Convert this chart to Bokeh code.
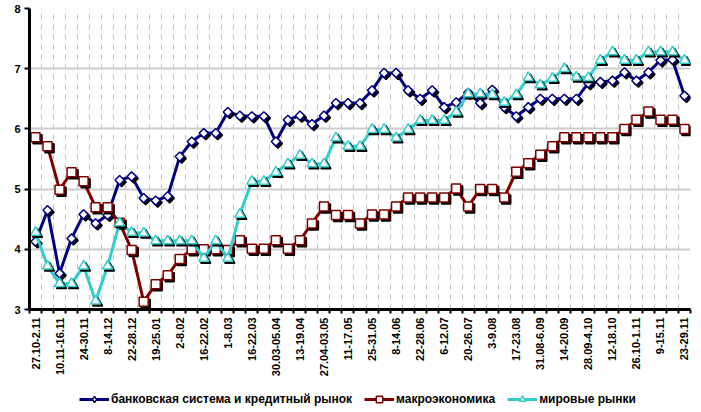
from bokeh.plotting import figure
from bokeh.models import FixedTicker, Legend, LegendItem, Range1d
from bokeh.layouts import column
from bokeh.embed import file_html
from bokeh.resources import INLINE
import math

tick_labels = ["27.10-2.11", "10.11-16.11", "24-30.11", "8-14.12", "22-28.12", "19-25.01",
               "2-8.02", "16-22.02", "1-8.03", "16-22.03", "30.03-05.04", "13-19.04",
               "27.04-03.05", "11-17.05", "25-31.05", "8-14.06", "22-28.06", "6-12.07",
               "20-26.07", "3-9.08", "17-23.08", "31.08-6.09", "14-20.09", "28.09-4.10",
               "12-18.10", "26.10-1.11", "9-15.11", "23-29.11"]

bank = [4.13, 4.65, 3.60, 4.18, 4.58, 4.43, 4.57, 5.15, 5.21, 4.85,
        4.81, 4.88, 5.54, 5.79, 5.93, 5.93, 6.28, 6.22, 6.21, 6.21,
        5.79, 6.15, 6.22, 6.08, 6.22, 6.43, 6.43, 6.43, 6.64, 6.93,
        6.93, 6.64, 6.50, 6.64, 6.36, 6.44, 6.60, 6.43, 6.65, 6.36,
        6.21, 6.36, 6.50, 6.50, 6.50, 6.50, 6.76, 6.78, 6.80, 6.94,
        6.80, 6.94, 7.14, 7.15, 6.55]

macro = [5.86, 5.71, 4.99, 5.28, 5.13, 4.70, 4.70, 4.44, 3.99, 3.13,
         3.42, 3.57, 3.84, 4.00, 4.00, 4.00, 3.99, 4.15, 4.01, 4.01,
         4.15, 4.01, 4.15, 4.43, 4.71, 4.57, 4.57, 4.43, 4.58, 4.58,
         4.71, 4.86, 4.86, 4.86, 4.86, 5.01, 4.71, 5.00, 5.00, 4.86,
         5.29, 5.43, 5.57, 5.71, 5.86, 5.86, 5.86, 5.86, 5.86, 6.00,
         6.15, 6.29, 6.15, 6.15, 6.00]

world = [4.28, 3.72, 3.43, 3.43, 3.72, 3.14, 3.72, 4.44, 4.28, 4.27,
         4.14, 4.14, 4.14, 4.14, 3.85, 4.14, 3.85, 4.58, 5.13, 5.13,
         5.28, 5.42, 5.56, 5.42, 5.42, 5.85, 5.71, 5.71, 5.99, 5.99,
         5.85, 5.99, 6.14, 6.14, 6.14, 6.28, 6.58, 6.58, 6.57, 6.44,
         6.57, 6.85, 6.73, 6.84, 7.00, 6.86, 6.85, 7.14, 7.28, 7.14,
         7.14, 7.28, 7.28, 7.28, 7.14]

names = ["банковская система и кредитный рынок", "макроэкономика", "мировые рынки"]

n = len(bank)
xs = list(range(n))
W, H, LH = 701, 412, 32
BL, BR, BT, BB = 29, 11, 8, 71
ymin, ymax = 3, 8

p = figure(width=W, height=H - LH, output_backend="svg", toolbar_location=None,
           x_range=Range1d(-0.5, n - 0.5), y_range=Range1d(ymin, ymax),
           min_border_left=BL, min_border_right=BR, min_border_top=BT, min_border_bottom=BB)
p.outline_line_color = None
p.background_fill_color = "white"

# shadow offset (2 px right, 2 px down) expressed in data units
px_x = n / (W - BL - BR)
px_y = (ymax - ymin) / (H - LH - BT - BB)
sdx, sdy = 2 * px_x, -2 * px_y

FONT = "Liberation Sans"

for ax in (p.xaxis[0], p.yaxis[0]):
    ax.axis_line_width = 3
    ax.axis_line_color = "black"
    ax.major_label_text_font = FONT
    ax.major_label_text_font_style = "bold"
    ax.major_label_text_font_size = "11px"
    ax.major_label_text_color = "black"

p.yaxis[0].ticker = FixedTicker(ticks=list(range(ymin, ymax + 1)))
p.yaxis[0].major_tick_out = 5
p.yaxis[0].major_tick_in = 0
p.yaxis[0].major_tick_line_width = 2
p.yaxis[0].minor_tick_line_color = None
p.yaxis[0].major_label_standoff = 4

even = list(range(0, n, 2))
bounds = [i + 0.5 for i in range(-1, n)]
p.xaxis[0].ticker = FixedTicker(ticks=even, minor_ticks=bounds)
p.xaxis[0].major_label_overrides = {i: lab for i, lab in zip(even, tick_labels)}
p.xaxis[0].major_label_orientation = math.pi / 2
p.xaxis[0].major_tick_line_color = None
p.xaxis[0].major_tick_out = 4
p.xaxis[0].minor_tick_out = 4
p.xaxis[0].minor_tick_in = 0
p.xaxis[0].minor_tick_line_width = 2
p.xaxis[0].minor_tick_line_color = "black"
p.xaxis[0].major_label_standoff = 4

p.xgrid[0].ticker = FixedTicker(ticks=bounds[1:])
p.xgrid[0].grid_line_color = "#c0c0c0"
p.xgrid[0].grid_line_dash = "5 5"
p.xgrid[0].grid_line_width = 1
p.ygrid[0].ticker = FixedTicker(ticks=list(range(ymin + 1, ymax + 1)))
p.ygrid[0].grid_line_color = "#cccccc"
p.ygrid[0].grid_line_width = 2

series = [
    (bank, "#000080", dict(marker="square", size=6.5, angle=math.pi / 4), dict(marker="diamond", size=11)),
    (macro, "#800000", dict(marker="square", size=9), dict(marker="square", size=9)),
    (world, "#33CCCC", dict(marker="triangle", size=10), dict(marker="triangle", size=10)),
]

# legend strip (its dummy renderers sit outside the visible range)
q = figure(width=W, height=LH, output_backend="svg", toolbar_location=None,
           x_range=Range1d(0, 1), y_range=Range1d(0, 1),
           min_border_left=0, min_border_right=0, min_border_top=0, min_border_bottom=0)
q.axis.visible = False
q.grid.visible = False
q.outline_line_color = None

items = []
for (vals, col, mk, lmk), name in zip(series, names):
    p.line(xs, vals, line_color=col, line_width=3)
    p.scatter([x + sdx for x in xs], [v + sdy for v in vals], fill_color="black",
              line_color="black", line_width=1.5, **mk)
    p.scatter(xs, vals, fill_color="white", line_color=col, line_width=1.5, **mk)
    ln = q.line([-5, -4], [-5, -5], line_color=col, line_width=3)
    sc = q.scatter([-5], [-5], fill_color="white", line_color=col, line_width=1.5, **lmk)
    items.append(LegendItem(label=name, renderers=[ln, sc]))

legend = Legend(items=items, orientation="horizontal", location=(50, 5),
                label_text_font=FONT, label_text_font_style="bold",
                label_text_font_size="12px", label_text_color="black",
                glyph_width=30, glyph_height=16, label_standoff=2, spacing=12,
                padding=0, margin=0, border_line_color=None,
                background_fill_alpha=0)
q.add_layout(legend, "center")

open("out.html", "w").write(file_html(column(p, q, spacing=0), INLINE))
